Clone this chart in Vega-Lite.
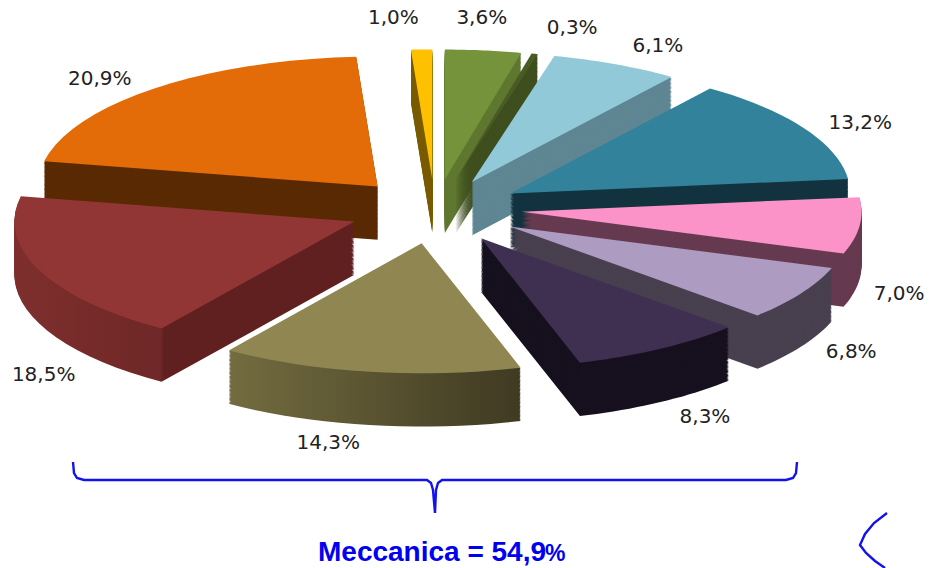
{"$schema":"https://vega.github.io/schema/vega-lite/v6.json","width":934,"height":568,"padding":0,"autosize":{"type":"none"},"background":"white","view":{"stroke":null},
"data":{"values":[
{"seq":1,"label":"1,0%","value":1.0},
{"seq":2,"label":"3,6%","value":3.6},
{"seq":3,"label":"0,3%","value":0.3},
{"seq":4,"label":"6,1%","value":6.1},
{"seq":5,"label":"13,2%","value":13.2},
{"seq":11,"label":"20,9%","value":20.9},
{"seq":6,"label":"7,0%","value":7.0},
{"seq":7,"label":"6,8%","value":6.8},
{"seq":8,"label":"8,3%","value":8.3},
{"seq":10,"label":"18,5%","value":18.5},
{"seq":9,"label":"14,3%","value":14.3}]},
"transform":[
{"window":[{"op":"sum","field":"value","as":"cum"}],"sort":[{"field":"seq","order":"ascending"}]},
{"calculate":"(-3.6+(datum.cum-datum.value)*3.6)*PI/180","as":"a0"},
{"calculate":"datum.a0+datum.value*3.6*PI/180","as":"a1"},
{"calculate":"(datum.a0+datum.a1)/2","as":"mid"},
{"calculate":"0.256*sin(datum.mid)","as":"ex"},
{"calculate":"cos(datum.mid)*(cos(datum.mid)>0?0.22:0.275)","as":"ey"},
{"calculate":"[0.41,0.40,0.39,0.38,0.37,0.36,0.35,0.34,0.33,0.32,0.31,0.30,0.29,0.28,0.27,0.26,0.25,0.24,0.23,0.22,0.21,0.20,0.19,0.18,0.17,0.16,0.15,0.14,0.13,0.12,0.11,0.10,0.09,0.08,0.07,0.06,0.05,0.04,0.03,0.02,0.01,0]","as":"d"},
{"flatten":["d"]},
{"calculate":"[-1,0,0.05,0.1,0.15,0.2,0.25,0.3,0.35,0.4,0.45,0.5,0.55,0.6,0.65,0.7,0.75,0.8,0.85,0.9,0.95,1]","as":"t"},
{"flatten":["t"]},
{"calculate":"datum.a0+datum.t*(datum.a1-datum.a0)","as":"a"},
{"calculate":"datum.ex+(datum.t<0?0:sin(datum.a))","as":"px"},
{"calculate":"datum.ey-datum.d+(datum.t<0?0:cos(datum.a))","as":"py"},
{"calculate":"datum.label+(datum.d==0?' top':' wall')","as":"part"}
],
"layer":[
{"transform":[{"filter":"datum.part!='18,5% wall'&&datum.part!='18,5% top'&&datum.part!='14,3% wall'&&datum.part!='14,3% top'"}],
"mark":{"type":"line","strokeWidth":0,"interpolate":"linear"},
"encoding":{
"x":{"field":"px","type":"quantitative","axis":null,"scale":{"domain":[-1.2794,1.4676],"nice":false,"zero":false}},
"y":{"field":"py","type":"quantitative","axis":null,"scale":{"domain":[-2.7692,1.6],"nice":false,"zero":false}},
"fill":{"field":"part","type":"nominal","legend":null,"scale":{
"domain":["1,0% top","3,6% top","0,3% top","6,1% top","13,2% top","7,0% top","6,8% top","8,3% top","20,9% top","1,0% wall","3,6% wall","0,3% wall","6,1% wall","13,2% wall","7,0% wall","6,8% wall","8,3% wall","20,9% wall"],
"range":["#ffc000","#74933a","#4a5c25","#92c9d8","#31829a","#fb93c8","#ae9bc2","#3f2f50","#e36c09","#7a5c00","#5f7830","#3f4f1f","#5f8693","#12333f","#663a50","#48404f","#17111f","#592a03"]}},
"stroke":{"value":"transparent"},
"detail":{"field":"d"},
"order":{"field":"t","type":"quantitative"}}},
{"transform":[{"filter":"datum.part=='18,5% wall'"}],
"mark":{"type":"line","strokeWidth":0,"stroke":"transparent","fill":{"gradient":"linear","x1":0,"y1":0,"x2":1,"y2":0,"stops":[{"offset":0,"color":"#7e2f2d"},{"offset":0.43,"color":"#6e2827"},{"offset":0.44,"color":"#602020"},{"offset":1,"color":"#602020"}]}},
"encoding":{
"x":{"field":"px","type":"quantitative","axis":null,"scale":{"domain":[-1.2794,1.4676],"nice":false,"zero":false}},
"y":{"field":"py","type":"quantitative","axis":null,"scale":{"domain":[-2.7692,1.6],"nice":false,"zero":false}},
"detail":{"field":"d"},
"order":{"field":"t","type":"quantitative"}}},
{"transform":[{"filter":"datum.part=='18,5% top'"}],
"mark":{"type":"line","strokeWidth":0,"stroke":"transparent","fill":"#923535"},
"encoding":{
"x":{"field":"px","type":"quantitative","axis":null,"scale":{"domain":[-1.2794,1.4676],"nice":false,"zero":false}},
"y":{"field":"py","type":"quantitative","axis":null,"scale":{"domain":[-2.7692,1.6],"nice":false,"zero":false}},
"order":{"field":"t","type":"quantitative"}}},
{"transform":[{"filter":"datum.part=='14,3% wall'"}],
"mark":{"type":"line","strokeWidth":0,"stroke":"transparent","fill":{"gradient":"linear","x1":0,"y1":0,"x2":1,"y2":0,"stops":[{"offset":0,"color":"#736c40"},{"offset":1,"color":"#3f3a22"}]}},
"encoding":{
"x":{"field":"px","type":"quantitative","axis":null,"scale":{"domain":[-1.2794,1.4676],"nice":false,"zero":false}},
"y":{"field":"py","type":"quantitative","axis":null,"scale":{"domain":[-2.7692,1.6],"nice":false,"zero":false}},
"detail":{"field":"d"},
"order":{"field":"t","type":"quantitative"}}},
{"transform":[{"filter":"datum.part=='14,3% top'"}],
"mark":{"type":"line","strokeWidth":0,"stroke":"transparent","fill":"#8f8651"},
"encoding":{
"x":{"field":"px","type":"quantitative","axis":null,"scale":{"domain":[-1.2794,1.4676],"nice":false,"zero":false}},
"y":{"field":"py","type":"quantitative","axis":null,"scale":{"domain":[-2.7692,1.6],"nice":false,"zero":false}},
"order":{"field":"t","type":"quantitative"}}},
{"transform":[
{"filter":"datum.d==0&&datum.t==-1"},
{"calculate":"{'1,0%':[-27,-10],'3,6%':[-6,-11],'0,3%':[28,-5],'6,1%':[25,1],'13,2%':[21,6],'7,0%':[-1,16],'6,8%':[15,-2],'8,3%':[23,0],'14,3%':[-35,0],'18,5%':[42,46],'20,9%':[-27,6]}[datum.label]","as":"n"},
{"calculate":"datum.ex+1.12*sin(datum.mid)+datum.n[0]/340","as":"lx"},
{"calculate":"datum.ey+1.163*cos(datum.mid)-(cos(datum.mid)<0.2?0.385:0)-datum.n[1]/130","as":"ly"}
],
"mark":{"type":"text","font":"DejaVu Sans","fontSize":20,"color":"#222222","align":"center","baseline":"middle"},
"encoding":{
"x":{"field":"lx","type":"quantitative","axis":null,"scale":{"domain":[-1.2794,1.4676],"nice":false,"zero":false}},
"y":{"field":"ly","type":"quantitative","axis":null,"scale":{"domain":[-2.7692,1.6],"nice":false,"zero":false}},
"text":{"field":"label"}}},
{"data":{"values":[
{"s":"brace","o":1,"h":73,"v":462},{"s":"brace","o":2,"h":74,"v":473},{"s":"brace","o":3,"h":77,"v":478},{"s":"brace","o":4,"h":84,"v":480},{"s":"brace","o":5,"h":427,"v":480},{"s":"brace","o":6,"h":431,"v":483},{"s":"brace","o":7,"h":433,"v":490},{"s":"brace","o":8,"h":435,"v":513},{"s":"brace","o":9,"h":436,"v":490},{"s":"brace","o":10,"h":438,"v":483},{"s":"brace","o":11,"h":442,"v":480},{"s":"brace","o":12,"h":786,"v":480},{"s":"brace","o":13,"h":793,"v":478},{"s":"brace","o":14,"h":796,"v":473},{"s":"brace","o":15,"h":797,"v":462},
{"s":"chevron","o":1,"h":887,"v":513},{"s":"chevron","o":2,"h":874,"v":523},{"s":"chevron","o":3,"h":865,"v":534},{"s":"chevron","o":4,"h":860,"v":545},{"s":"chevron","o":5,"h":866,"v":553},{"s":"chevron","o":6,"h":875,"v":561},{"s":"chevron","o":7,"h":885,"v":568}]},
"mark":{"type":"line","color":"#1212f0","strokeWidth":2.4},
"encoding":{
"x":{"field":"h","type":"quantitative","axis":null,"scale":{"domain":[0,934],"nice":false,"zero":false}},
"y":{"field":"v","type":"quantitative","axis":null,"scale":{"domain":[568,0],"nice":false,"zero":false}},
"detail":{"field":"s"},"order":{"field":"o","type":"quantitative"}}},
{"data":{"values":[{"h":318,"v":561,"t":"Meccanica = 54,9"}]},
"mark":{"type":"text","font":"Liberation Sans","fontWeight":"bold","fontSize":28,"color":"#0000f0","align":"left","baseline":"alphabetic"},
"encoding":{
"x":{"field":"h","type":"quantitative","axis":null,"scale":{"domain":[0,934],"nice":false,"zero":false}},
"y":{"field":"v","type":"quantitative","axis":null,"scale":{"domain":[568,0],"nice":false,"zero":false}},
"text":{"field":"t"}}},
{"data":{"values":[{"h":545,"v":561,"t":"%"}]},
"mark":{"type":"text","font":"Liberation Sans","fontWeight":"bold","fontSize":23,"color":"#0000f0","align":"left","baseline":"alphabetic"},
"encoding":{
"x":{"field":"h","type":"quantitative","axis":null,"scale":{"domain":[0,934],"nice":false,"zero":false}},
"y":{"field":"v","type":"quantitative","axis":null,"scale":{"domain":[568,0],"nice":false,"zero":false}},
"text":{"field":"t"}}}
],
"resolve":{"scale":{"x":"independent","y":"independent"}}}
